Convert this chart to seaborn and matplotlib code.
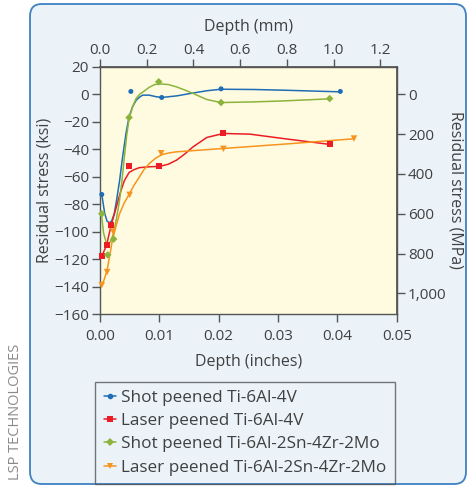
import numpy as np
import pandas as pd
import matplotlib
matplotlib.use("Agg")
import matplotlib.pyplot as plt
from matplotlib.patches import FancyBboxPatch
from matplotlib.lines import Line2D
import matplotlib.ticker as mticker
import seaborn as sns

# measured points (depth in inches, stress in ksi)
shot_64_x = [0.0003, 0.0052, 0.0104, 0.0204, 0.0405]
shot_64_y = [-73, 2.0, -2.4, 3.9, 2.0]
laser_64_x = [0.0003, 0.0011, 0.0019, 0.0049, 0.0100, 0.0208, 0.0388]
laser_64_y = [-118, -110, -95, -52.6, -52.6, -28.6, -36.6]
shot_6242_x = [0.0003, 0.0013, 0.0023, 0.0049, 0.0099, 0.0204, 0.0387]
shot_6242_y = [-87, -117, -105.5, -17, 9.0, -6.1, -3.2]
laser_6242_x = [0.0003, 0.0012, 0.0022, 0.0050, 0.0103, 0.0208, 0.0428]
laser_6242_y = [-139, -129.5, -100, -73.3, -43, -39.8, -32.3]

# smoothed trend curves
shot_64_cx = [0.0003, 0.0008, 0.0012, 0.0016, 0.0020, 0.0024, 0.0028, 0.0033, 0.0038,
              0.0044, 0.0049, 0.0055, 0.0061, 0.0067, 0.0072, 0.0083, 0.0094, 0.0104,
              0.0130, 0.0152, 0.0180, 0.0204, 0.0260, 0.0309, 0.0405]
shot_64_cy = [-73, -87, -92.5, -93.7, -92, -87, -77, -63, -46, -28, -16.5, -9, -4.4, -2,
              -0.7, -0.7, -1.8, -2.4, -1.2, 0.5, 2.5, 3.6, 3.4, 2.9, 1.7]
laser_64_cx = [0.0003, 0.0011, 0.0019, 0.0027, 0.0034, 0.0041, 0.0049, 0.0057, 0.0066,
               0.0085, 0.0100, 0.0115, 0.0129, 0.0143, 0.0157, 0.0180, 0.0208, 0.0253,
               0.0309, 0.0388]
laser_64_cy = [-118, -110, -95, -83, -72, -63, -57, -55, -53.5, -52.8, -52.6, -51,
               -48, -43.5, -38.3, -31.5, -28.6, -29.1, -32.3, -36.6]
shot_6242_cx = [0.0002, 0.0006, 0.0011, 0.0015, 0.0019, 0.0023, 0.0028, 0.0033, 0.0037,
                0.0041, 0.0045, 0.0049, 0.0055, 0.0061, 0.0067, 0.0072, 0.0083, 0.0092,
                0.0101, 0.0115, 0.0129, 0.0143, 0.0157, 0.0180, 0.0204, 0.0260, 0.0309,
                0.0387]
shot_6242_cy = [-86, -101, -109, -109, -106, -101, -90, -77, -63, -46, -30, -18, -9,
                -3, 0, 1.5, 5, 7, 7.5, 7, 5.3, 3, 0.5, -3.9, -6.1, -5.6, -4.9, -3.4]
laser_6242_cx = [0.0002, 0.0007, 0.0012, 0.0017, 0.0021, 0.0027, 0.0033, 0.0041, 0.0049,
                 0.0057, 0.0066, 0.0074, 0.0083, 0.0094, 0.0104, 0.0116, 0.0128, 0.0160,
                 0.0208, 0.0309, 0.0427]
laser_6242_cy = [-140, -135, -128, -116, -106, -96, -87, -79, -73, -66.5, -60.5, -55,
                 -50.5, -46.5, -44, -42.8, -42, -41, -39.5, -36.4, -32.5]

labels = ["Shot peened Ti-6Al-4V", "Laser peened Ti-6Al-4V",
          "Shot peened Ti-6Al-2Sn-4Zr-2Mo", "Laser peened Ti-6Al-2Sn-4Zr-2Mo"]
colors = ["#1f6db5", "#ec1c24", "#8cb43c", "#f7941d"]
markers = ["o", "s", "D", "v"]
msizes = [13, 19, 15, 22]

pts = [(shot_64_x, shot_64_y), (laser_64_x, laser_64_y),
       (shot_6242_x, shot_6242_y), (laser_6242_x, laser_6242_y)]
curves = [(shot_64_cx, shot_64_cy), (laser_64_cx, laser_64_cy),
          (shot_6242_cx, shot_6242_cy), (laser_6242_cx, laser_6242_cy)]

sns.set_theme(style="white")
plt.rcParams["font.family"] = ["Open Sans", "DejaVu Sans"]
txt = "#404040"
tick_c = "#555555"

fig = plt.figure(figsize=(4.68, 4.91), dpi=100)
fig.patch.set_facecolor("white")

# rounded panel behind everything
W, H = 468, 491
panel = FancyBboxPatch((30 / W, 7 / H), 436 / W, 480 / H,
                       boxstyle="round,pad=0,rounding_size=0.025",
                       transform=fig.transFigure, facecolor="#ebf3f9",
                       edgecolor="#3f82c2", linewidth=1.3, zorder=-10)
fig.patches.append(panel)

ax = fig.add_axes([100 / W, 1 - 314 / H, 296.7 / W, 247.3 / H])
ax.set_facecolor("#fffbe0")

for i in range(4):
    cdf = pd.DataFrame({"x": curves[i][0], "y": curves[i][1]})
    sns.lineplot(data=cdf, x="x", y="y", ax=ax, color=colors[i], lw=1.1,
                 sort=False, estimator=None, zorder=3)
    pdf = pd.DataFrame({"x": pts[i][0], "y": pts[i][1]})
    sns.scatterplot(data=pdf, x="x", y="y", ax=ax, color=colors[i], marker=markers[i],
                    s=msizes[i], edgecolor="none", zorder=4, clip_on=False)

ax.set_xlim(0, 0.05)
ax.set_ylim(-160, 20)
ax.set_xticks(np.arange(0, 0.051, 0.01))
ax.set_yticks(np.arange(-160, 21, 20))
ax.xaxis.set_major_formatter(mticker.FormatStrFormatter("%.2f"))
ax.set_xlabel("Depth (inches)", fontsize=11.5, color=txt, labelpad=7)
ax.set_ylabel("Residual stress (ksi)", fontsize=11.5, color=txt, labelpad=1)
for s in ax.spines.values():
    s.set_color(tick_c)
    s.set_linewidth(1.0)
ax.tick_params(axis="both", direction="out", length=6, width=1, color=tick_c,
               labelsize=11, labelcolor=txt, pad=2, bottom=True, left=True)
ax.tick_params(axis="x", pad=5)

top = ax.secondary_xaxis("top", functions=(lambda v: v * 25.4, lambda v: v / 25.4))
top.set_xticks(np.arange(0, 1.21, 0.2))
top.xaxis.set_major_formatter(mticker.FormatStrFormatter("%.1f"))
top.set_xlabel("Depth (mm)", fontsize=11.5, color=txt, labelpad=9)
top.tick_params(direction="out", length=6, width=1, color=tick_c,
                labelsize=11, labelcolor=txt, pad=0, top=True)
top.spines["top"].set_color(tick_c)

right = ax.secondary_yaxis("right", functions=(lambda v: -v * 6.894757,
                                               lambda v: -v / 6.894757))
right.set_yticks(np.arange(0, 1001, 200))
right.yaxis.set_major_formatter(mticker.FuncFormatter(lambda v, p: f"{v:,.0f}"))
right.set_ylabel("Residual stress (MPa)", fontsize=11.5, color=txt, rotation=270,
                 labelpad=12)
right.tick_params(direction="out", length=6, width=1, color=tick_c,
                  labelsize=11, labelcolor=txt, pad=2, right=True)
right.spines["right"].set_color(tick_c)

handles = [Line2D([0], [0], color=colors[i], marker=markers[i], lw=1.1,
                  markersize=4, markeredgewidth=0) for i in range(4)]
leg = fig.legend(handles, labels, loc="upper left",
                 bbox_to_anchor=(95 / W, 1 - 381.5 / H), bbox_transform=fig.transFigure,
                 frameon=True, fancybox=False, fontsize=12.3, handlelength=0.75,
                 handletextpad=0.28, labelspacing=0.42, borderpad=0.5,
                 borderaxespad=0, labelcolor=txt)
leg.get_frame().set_edgecolor(tick_c)
leg.get_frame().set_facecolor("none")
leg.get_frame().set_linewidth(1.0)

fig.text(16 / W, 1 - 412 / H, "LSP TECHNOLOGIES", rotation=90, ha="center",
         va="center", fontsize=10.5, color="#8a8a8a")

fig.savefig("out.png", dpi=100)
